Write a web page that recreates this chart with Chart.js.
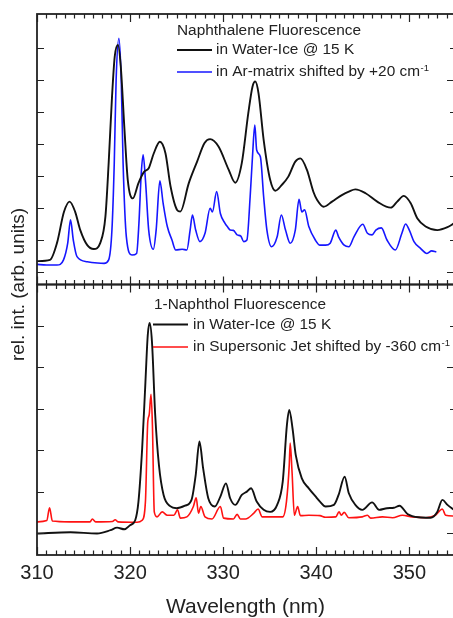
<!DOCTYPE html>
<html><head><meta charset="utf-8">
<script src="https://cdn.jsdelivr.net/npm/chart.js@4.4.1/dist/chart.umd.min.js"></script>
<style>
html,body{margin:0;padding:0;background:#fff;overflow:hidden;width:453px;height:618px}
#wrap{position:absolute;left:0;top:0;width:456px;height:618px}
</style>
</head><body><div id="wrap"><canvas id="c" width="456" height="618"></canvas></div>
<script>
// ---------- data (wavelength nm, relative intensity) ----------
const xTickValues = [310, 320, 330, 340, 350];
const upperYTicks = [0, 1, 2, 3, 4, 5, 6, 7];
const lowerYTicks = [0, 1, 2, 3, 4, 5];

const upperTitle = 'Naphthalene Fluorescence';
const lowerTitle = '1-Naphthol Fluorescence';
const seriesLabels = ['in Water-Ice @ 15 K', 'in Ar-matrix shifted by +20 cm', 'in Water-Ice @ 15 K', 'in Supersonic Jet shifted by -360 cm'];
const seriesSup = ['', '-1', '', '-1'];

const naphIce = [[310.0,0.34],[311.4,0.38],[312.15,0.91],[312.9,1.88],[313.5,2.20],[314.1,1.88],[314.65,1.31],[315.4,0.84],[316.1,0.72],[316.8,0.91],[317.35,1.73],[317.7,3.41],[318.06,5.48],[318.35,6.73],[318.7,7.09],[319.0,6.42],[319.4,4.44],[319.75,2.88],[320.3,2.30],[320.9,2.78],[321.5,3.13],[322.0,3.24],[322.55,3.71],[323.2,4.07],[323.8,3.71],[324.35,2.67],[325.05,1.94],[325.4,1.89],[326.3,2.77],[327.2,3.45],[328.0,4.03],[328.6,4.15],[329.5,3.92],[330.6,3.19],[331.3,2.79],[332.0,3.40],[332.7,4.96],[333.15,5.79],[333.45,5.95],[333.8,5.58],[334.35,4.13],[335.05,2.88],[335.6,2.54],[336.3,2.72],[337.0,2.98],[337.75,3.45],[338.3,3.55],[339.0,3.19],[339.7,2.50],[340.1,2.25],[340.8,2.04],[341.7,2.20],[342.8,2.41],[343.5,2.51],[344.2,2.58],[345.3,2.46],[346.55,2.20],[348.0,2.01],[348.7,2.20],[349.4,2.38],[350.15,2.15],[350.85,1.68],[351.75,1.42],[353.0,1.31],[354.1,1.40],[354.8,1.52]];

const naphAr = [[310.0,0.24],[311.0,0.22],[312.15,0.22],[312.85,0.38],[313.3,0.90],[313.6,1.63],[313.9,1.00],[314.3,0.48],[315.4,0.32],[316.5,0.28],[317.2,0.27],[317.7,0.38],[318.05,1.31],[318.3,3.40],[318.5,6.00],[318.8,7.30],[319.05,6.00],[319.25,3.40],[319.6,1.10],[320.2,0.53],[320.7,0.58],[320.95,1.52],[321.2,3.08],[321.4,3.66],[321.65,2.88],[322.0,1.31],[322.5,0.71],[322.8,1.31],[323.2,2.85],[323.55,2.15],[324.0,1.42],[324.5,1.00],[324.9,0.69],[325.6,0.71],[326.1,0.69],[326.45,1.31],[326.7,1.78],[327.05,1.31],[327.5,0.95],[328.05,1.21],[328.6,1.99],[328.85,1.88],[329.3,2.51],[329.7,1.83],[330.2,1.52],[330.5,1.40],[330.75,1.31],[331.1,1.30],[331.5,1.16],[331.9,1.12],[332.2,0.95],[332.55,1.00],[332.9,2.35],[333.15,3.60],[333.4,4.59],[333.6,3.81],[334.0,3.60],[334.35,2.35],[334.7,1.31],[335.2,0.79],[335.8,1.10],[336.25,1.78],[336.7,1.31],[337.2,0.90],[337.75,1.31],[338.15,2.27],[338.45,1.88],[338.75,1.94],[339.2,1.42],[339.9,1.00],[340.4,0.84],[341.0,0.84],[341.5,0.90],[342.1,1.31],[342.4,1.10],[343.0,0.84],[343.5,0.79],[344.05,1.10],[345.0,1.49],[345.5,1.21],[346.0,1.16],[346.4,1.31],[347.0,1.38],[347.6,1.00],[348.5,0.69],[349.2,1.21],[349.6,1.50],[350.0,1.31],[350.5,0.95],[351.2,0.74],[351.9,0.58],[352.4,0.66],[352.9,0.63]];

const naphtholIce = [[310.0,-0.01],[313.6,0.02],[316.45,-0.01],[317.9,0.07],[318.6,0.13],[319.4,0.09],[320.0,0.19],[320.55,0.31],[320.9,0.76],[321.3,2.05],[321.65,3.65],[321.9,4.78],[322.1,5.07],[322.35,4.62],[322.7,2.85],[323.1,1.64],[323.6,0.92],[324.3,0.65],[325.0,0.60],[325.9,0.66],[326.6,0.80],[327.05,1.40],[327.45,2.21],[327.85,1.56],[328.4,0.84],[329.1,0.64],[329.7,0.88],[330.3,1.20],[330.75,0.84],[331.3,0.68],[332.0,0.92],[332.55,1.00],[333.0,1.08],[333.6,0.76],[334.35,0.56],[335.05,0.51],[335.8,0.68],[336.4,1.24],[336.85,2.61],[337.1,2.97],[337.45,2.53],[337.8,1.88],[338.45,1.32],[339.2,1.08],[339.9,0.89],[340.4,0.76],[341.0,0.64],[341.9,0.68],[342.4,0.92],[343.05,1.36],[343.5,0.96],[344.2,0.68],[344.95,0.56],[346.0,0.74],[346.75,0.56],[347.6,0.60],[348.35,0.61],[348.95,0.66],[349.8,0.46],[351.0,0.38],[352.3,0.37],[353.0,0.51],[353.55,0.80],[354.1,0.68],[354.8,0.56]];

const naphtholJet = [[310.0,0.27],[311.05,0.30],[311.35,0.61],[311.65,0.29],[313.5,0.27],[315.7,0.27],[315.95,0.34],[316.3,0.27],[318.1,0.28],[318.4,0.32],[318.7,0.27],[320.75,0.26],[321.3,0.31],[321.65,0.76],[321.9,2.69],[322.05,2.85],[322.25,3.35],[322.4,2.61],[322.6,0.51],[322.9,0.39],[323.45,0.51],[324.0,0.43],[324.7,0.43],[325.1,0.56],[325.4,0.36],[326.1,0.39],[326.8,0.64],[327.1,0.85],[327.35,0.48],[327.6,0.64],[328.05,0.39],[328.8,0.34],[329.7,0.64],[330.05,0.36],[331.1,0.34],[331.5,0.45],[331.85,0.34],[332.4,0.34],[333.3,0.48],[333.75,0.58],[334.2,0.39],[335.3,0.39],[336.4,0.39],[336.8,0.76],[337.1,1.64],[337.2,2.17],[337.4,1.48],[337.65,0.43],[338.0,0.64],[338.3,0.42],[339.2,0.43],[340.4,0.42],[341.0,0.38],[342.1,0.39],[342.45,0.51],[342.7,0.43],[343.0,0.50],[343.5,0.37],[344.95,0.39],[345.5,0.43],[345.85,0.36],[347.1,0.39],[348.2,0.37],[349.25,0.43],[350.3,0.39],[351.75,0.37],[352.8,0.43],[353.55,0.58],[353.9,0.43],[354.8,0.41]];

// ---------- styling / layout ----------
const FONT = '"Liberation Sans", Arial, Helvetica, sans-serif';
const INK = '#222';
Chart.defaults.font.family = FONT;
Chart.defaults.color = INK;

const toXY = arr => arr.map(([x, y]) => ({x, y}));

const legendLayout = [
  {title: upperTitle, tx: 177, ty: 31, lx0: 177, lx1: 212, textX: 216, rows: [50, 72], sets: [0, 1]},
  {title: lowerTitle, tx: 154, ty: 305, lx0: 153, lx1: 188, textX: 193, rows: [324.5, 347], sets: [2, 3]}
];

const framePlugin = {
  id: 'frameTicks',
  afterDatasetsDraw(chart) {
    const {ctx} = chart;
    const xs = chart.scales.x;
    const panels = [[chart.scales.yTop, upperYTicks], [chart.scales.yBot, lowerYTicks]];
    ctx.save();
    ctx.strokeStyle = INK;
    ctx.lineWidth = 1.2;
    ctx.beginPath();
    for (let v = xs.min; v <= xs.max + 1e-9; v += 1) {
      const px = Math.round(xs.getPixelForValue(v)) + 0.5;
      const len = xTickValues.includes(Math.round(v)) ? 8 : 4.5;
      for (const [ys] of panels) {
        ctx.moveTo(px, ys.top); ctx.lineTo(px, ys.top + len);
        ctx.moveTo(px, ys.bottom); ctx.lineTo(px, ys.bottom - len);
      }
    }
    for (const [ys, ticks] of panels) {
      for (const t of ticks) {
        const py = Math.round(ys.getPixelForValue(t)) + 0.5;
        ctx.moveTo(xs.left, py); ctx.lineTo(xs.left + 7, py);
        const rl = t % 2 === 0 ? 7 : 4;
        ctx.moveTo(xs.right, py); ctx.lineTo(xs.right - rl, py);
      }
    }
    ctx.stroke();
    ctx.lineWidth = 1.8;
    for (const [ys] of panels) {
      ctx.strokeRect(xs.left, ys.top, xs.right - xs.left, ys.bottom - ys.top);
    }
    ctx.restore();
  }
};

const legendPlugin = {
  id: 'panelLegends',
  afterDraw(chart) {
    const {ctx} = chart;
    const ds = chart.data.datasets;
    ctx.save();
    ctx.textAlign = 'left';
    ctx.fillStyle = INK;
    for (const L of legendLayout) {
      ctx.font = '15.4px ' + FONT;
      ctx.textBaseline = 'middle';
      ctx.fillText(L.title, L.tx, L.ty);
      L.sets.forEach((di, i) => {
        const y = L.rows[i];
        ctx.strokeStyle = ds[di].borderColor;
        ctx.lineWidth = ds[di].borderWidth;
        ctx.beginPath(); ctx.moveTo(L.lx0, y); ctx.lineTo(L.lx1, y); ctx.stroke();
        ctx.font = '15.4px ' + FONT;
        ctx.textBaseline = 'middle';
        ctx.fillText(seriesLabels[di], L.textX, y);
        if (seriesSup[di]) {
          const w = ctx.measureText(seriesLabels[di]).width;
          ctx.font = '9.5px ' + FONT;
          ctx.textBaseline = 'alphabetic';
          ctx.fillText(seriesSup[di], L.textX + w + 0.5, y - 1.5);
        }
      });
    }
    ctx.restore();
  }
};

const hiddenY = (min, max) => ({
  type: 'linear', position: 'left', stack: 'panels', stackWeight: 1, weight: 1,
  min, max,
  afterFit: s => { s.width = 0; },
  ticks: {display: false}, grid: {display: false, drawTicks: false}, border: {display: false}
});

new Chart(document.getElementById('c'), {
  type: 'line',
  data: {
    datasets: [
      {label: seriesLabels[0], data: toXY(naphIce), yAxisID: 'yTop', borderColor: '#111', borderWidth: 1.9},
      {label: seriesLabels[1], data: toXY(naphAr), yAxisID: 'yTop', borderColor: '#1616ff', borderWidth: 1.6},
      {label: seriesLabels[2], data: toXY(naphtholIce), yAxisID: 'yBot', borderColor: '#111', borderWidth: 1.9},
      {label: seriesLabels[3], data: toXY(naphtholJet), yAxisID: 'yBot', borderColor: '#ff1212', borderWidth: 1.6}
    ]
  },
  options: {
    responsive: false, animation: false, devicePixelRatio: 1,
    layout: {padding: {left: 0, right: 2, top: 14, bottom: 0}},
    plugins: {legend: {display: false}, tooltip: {enabled: false}},
    elements: {point: {radius: 0}, line: {cubicInterpolationMode: 'monotone', borderJoinStyle: 'round', fill: false}},
    scales: {
      x: {
        type: 'linear', position: 'bottom', min: 310, max: 354.8,
        afterFit: s => { s.height = 63; },
        ticks: {stepSize: 10, includeBounds: false, autoSkip: false, maxRotation: 0, font: {size: 20}, color: INK, padding: 6},
        grid: {display: false, drawTicks: false}, border: {display: false},
        title: {display: true, text: 'Wavelength (nm)', font: {size: 21, lineHeight: 1}, color: INK, padding: {top: 0, bottom: 0}}
      },
      yTitle: {
        type: 'linear', position: 'left', weight: 2,
        afterFit: s => { s.width = 37; },
        ticks: {display: false}, grid: {display: false, drawTicks: false}, border: {display: false},
        title: {display: true, text: 'rel. int. (arb. units)', font: {size: 19}, color: INK, padding: {top: 7.6, bottom: 0}}
      },
      // stacked panels: Chart.js places the later-declared axis of a stack on top
      yBot: hiddenY(-0.53, 6.0),
      yTop: hiddenY(-0.39, 8.06)
    }
  },
  plugins: [framePlugin, legendPlugin]
});
</script>
</body></html>
